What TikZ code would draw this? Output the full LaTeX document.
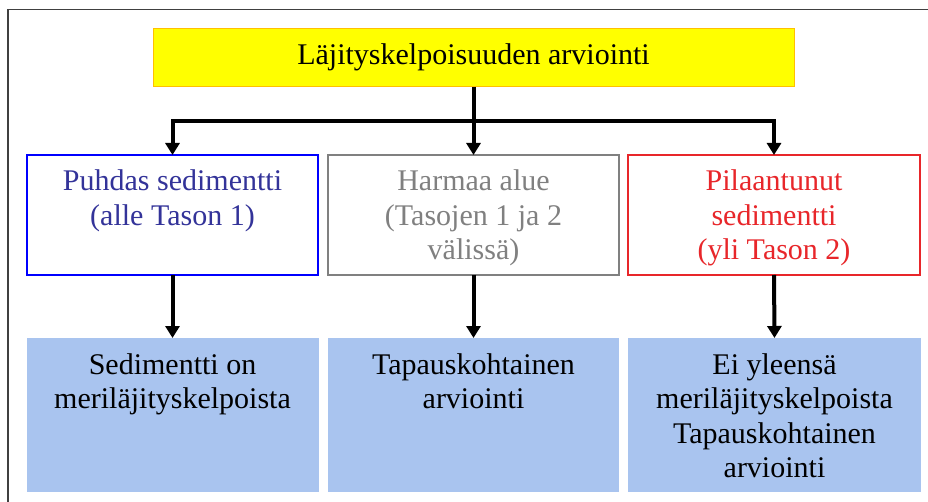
\documentclass[tikz,border=0pt]{standalone}
\usepackage{fontspec}
\setmainfont{Liberation Serif}
\usetikzlibrary{arrows.meta}

\definecolor{frameline}{HTML}{404040}
\definecolor{titlefill}{HTML}{FFFF00}
\definecolor{titleline}{HTML}{FFC000}
\definecolor{cleantext}{HTML}{333399}
\definecolor{cleanline}{HTML}{0000FF}
\definecolor{greytone}{HTML}{808080}
\definecolor{dirtytone}{HTML}{E8262A}
\definecolor{resultfill}{HTML}{A9C4EF}

% text block of fixed size, lines hung from the top with a fixed first baseline
\newcommand\cellbody[3]{\parbox[c][#1][t]{#2}{\centering\rule{0pt}{36pt}#3}}

\begin{document}
\begin{tikzpicture}[x=1pt, y=-1pt,
  cellfont/.style={font=\fontsize{30}{34.5}\selectfont},
  card/.style={rectangle, inner sep=0pt, outer sep=0pt, cellfont},
  titlebox/.style={card, fill=titlefill, draw=titleline, line width=1pt},
  classbox/.style={card, fill=white, line width=1.2pt},
  resultbox/.style={card, fill=resultfill},
  conn/.style={line width=4pt, -{Triangle[width=14pt,length=12pt]}},
]
\useasboundingbox (0,0) rectangle (928,502);
\clip (0,0) rectangle (928,502);

% outer frame (runs past the right and bottom edges)
\draw[frameline, line width=1.5pt] (8,540) -- (8,9.5) -- (960,9.5);

% title
\node[titlebox] (top) at (473.5,58)
  {\cellbody{58pt}{641pt}{Läjityskelpoisuuden arviointi}};

% classification
\node[classbox, draw=cleanline, text=cleantext] (clean) at (172.5,215)
  {\cellbody{120pt}{291pt}{Puhdas sedimentti\\(alle Tason 1)}};
\node[classbox, draw=greytone, text=greytone] (grey) at (473.5,215)
  {\cellbody{120pt}{291pt}{Harmaa alue\\(Tasojen 1 ja 2\\välissä)}};
\node[classbox, draw=dirtytone, text=dirtytone] (dirty) at (774,215)
  {\cellbody{120pt}{292pt}{Pilaantunut\\sedimentti\\(yli Tason 2)}};

% outcomes
\node[resultbox] (ok) at (172.5,415)
  {\cellbody{154pt}{292pt}{Sedimentti on\\meriläjityskelpoista}};
\node[resultbox] (case) at (473.5,415)
  {\cellbody{154pt}{291pt}{Tapauskohtainen\\arviointi}};
\node[resultbox] (notok) at (774.5,415)
  {\cellbody{154pt}{293pt}{Ei yleensä\\meriläjityskelpoista\\Tapauskohtainen\\arviointi}};

% connectors
\coordinate (fork) at (473.5,121);
\draw[conn] (top.south) -- (grey.north);
\draw[conn] (fork) -| (clean.north);
\draw[conn] (fork) -| (dirty.north);
\draw[conn] (clean.south) -- (ok.north);
\draw[conn] (grey.south) -- (case.north);
\draw[conn] (dirty.south) -- (notok.north);
\end{tikzpicture}
\end{document}
